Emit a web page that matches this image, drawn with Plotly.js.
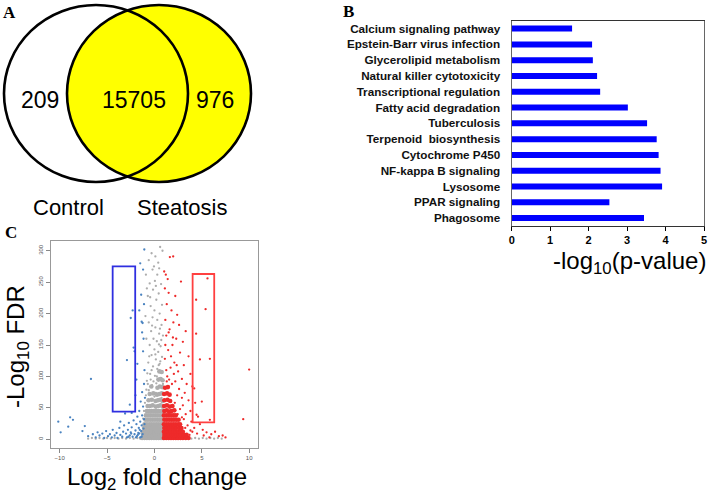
<!DOCTYPE html>
<html>
<head>
<meta charset="utf-8">
<script src="https://cdn.plot.ly/plotly-3.0.1.min.js"></script>
<style>html,body{margin:0;padding:0;background:#fff;}#chart{width:708px;height:494px;}</style>
</head>
<body>
<div id="chart"></div>
<script>
// ---------- Panel A: Venn ----------
const vennLabels = ["Control", "Steatosis"];
const vennCounts = [209, 15705, 976]; // control only, both, steatosis only

// ---------- Panel B: KEGG pathways ----------
const pathways = ["Calcium signaling pathway", "Epstein-Barr virus infection", "Glycerolipid metabolism",
  "Natural killer cytotoxicity", "Transcriptional regulation", "Fatty acid degradation", "Tuberculosis",
  "Terpenoid  biosynthesis", "Cytochrome P450", "NF-kappa B signaling", "Lysosome", "PPAR signaling", "Phagosome"];
const negLogP = [1.57, 2.09, 2.11, 2.22, 2.30, 3.02, 3.52, 3.77, 3.82, 3.87, 3.91, 2.54, 3.44];
const barTicks = [0, 1, 2, 3, 4, 5];

// ---------- Panel C: volcano ----------
const volcanoXTicks = [-10, -5, 0, 5, 10];
const volcanoYTicks = [0, 50, 100, 150, 200, 250, 300];
const grayCore = [
 [-1.3,2],[-1.05,2],[-0.8,2],[-0.55,2],[-0.3,2],[-0.05,2],[0.2,2],[0.45,2],[0.7,2],[0.92,2],
 [-1.2,7],[-0.95,7],[-0.7,7],[-0.45,7],[-0.2,7],[0.05,7],[0.3,7],[0.55,7],[0.8,7],
 [-1.25,12],[-1.0,12],[-0.75,12],[-0.5,12],[-0.25,12],[0.0,12],[0.25,12],[0.5,12],[0.75,12],[0.95,12],
 [-1.1,18],[-0.85,18],[-0.6,18],[-0.35,18],[-0.1,18],[0.15,18],[0.4,18],[0.65,18],[0.9,18],
 [-1.05,24],[-0.8,24],[-0.55,24],[-0.3,24],[-0.05,24],[0.2,24],[0.45,24],[0.7,24],[0.93,24],
 [-0.95,31],[-0.7,31],[-0.45,31],[-0.2,31],[0.05,31],[0.3,31],[0.55,31],[0.8,31],
 [-0.9,38],[-0.65,38],[-0.4,38],[-0.15,38],[0.1,38],[0.35,38],[0.6,38],[0.85,38],
 [-0.8,45],[-0.55,45],[-0.3,45],[-0.05,45],[0.2,45],[0.45,45],[0.7,45],[0.92,45],
 [-0.72,53],[-0.47,53],[-0.18,54],[0.15,52],[0.4,53],[0.65,54],[0.88,52],
 [-0.62,62],[-0.28,63],[0.12,61],[0.37,62],[0.6,63],[0.85,61],
 [-0.5,72],[-0.12,73],[0.27,71],[0.52,72],[0.77,73],
 [-0.33,84],[0.32,82],[0.57,84],[0.82,83],
 [0.42,95],[0.66,96],[0.86,94],
 [0.52,108],[0.76,107]
];
const graySparse = [
 [-0.9,262],[-0.6,285],[-0.3,296],[0.1,291],[0.6,306],[0.85,300],[0.4,281],[-0.2,270],[0.3,262],[-0.5,248],
 [0.05,252],[0.7,247],[-0.15,238],[0.45,232],[-0.7,228],[0.2,222],[0.8,214],[-0.4,212],[0.0,205],[0.55,200],
 [-0.2,194],[0.3,190],[-0.6,186],[0.75,182],[0.1,178],[-0.35,172],[0.5,168],[0.9,165],[-0.1,160],[0.25,156],
 [-0.5,150],[0.65,148],[0.0,143],[0.4,139],[-0.3,134],[0.8,131],[0.15,127],[-0.65,122],[0.55,120],[-0.15,116],
 [0.3,112],[0.7,108],[-0.45,104],[0.05,101],[0.6,97],[-0.8,93],[0.9,88],[-0.25,86],[0.35,83],[-0.6,78],
 [0.15,74],[-0.9,70],[0.75,66],[-1.0,58],[-1.1,45],[-1.2,33],[0.62,124],[0.48,151],[0.72,158],[0.58,176],
 [-0.75,105],[-0.55,132],[-0.85,160],[-0.25,181],[-0.95,196],[-0.45,226],[-0.8,240],[0.15,244],[-0.05,275],[0.5,272],
 [-0.7,88],[-0.4,95],[-0.1,92],[0.2,89],[-0.85,79],[0.0,68],[0.45,118],[0.1,135],[-0.3,110],[0.25,100],
 [-7.0,1],[-6.6,2],[-6.2,1],[-5.8,2],[-5.4,1],[-5.0,2],[-4.6,1],[-4.2,2],[-3.8,1],[-3.4,2],[-3.0,1],[-2.6,2],
 [-2.2,1],[-1.8,2],[-1.5,1],[3.5,2],[3.9,1],[4.3,2],[4.7,1],[5.1,2],[5.5,1],[5.9,2],[6.3,1],[6.7,2],[7.1,1]
];
const blueSparse = [
 [-10.15,28],[-9.9,11],[-8.9,35],[-8.6,31],[-9.1,20],[-7.6,13],[-7.35,21],[-6.7,96],[-7.0,5],[-6.5,8],
 [-6.2,3],[-6.0,11],[-5.8,6],[-5.5,9],[-5.3,2],[-5.1,13],[-4.9,5],[-4.7,8],[-4.5,3],[-4.4,15],
 [-4.2,6],[-4.0,10],[-3.9,2],[-3.7,18],[-3.6,7],[-3.4,4],[-3.3,12],[-3.2,22],[-3.0,9],[-2.9,3],
 [-2.8,15],[-2.7,26],[-2.6,6],[-2.5,11],[-2.4,19],[-2.3,4],[-2.2,30],[-2.1,8],[-2.0,14],[-1.9,24],
 [-1.85,5],[-1.8,36],[-1.7,10],[-1.65,18],[-1.6,45],[-1.5,3],[-1.5,28],[-1.45,60],[-1.4,13],[-1.35,22],
 [-1.3,38],[-1.3,75],[-1.25,8],[-1.2,52],[-1.15,17],[-1.1,32],[-1.1,88],[-1.05,110],[-1.05,24],[-1.0,66],
 [-1.2,140],[-1.3,170],[-1.35,187],[-1.25,185],[-1.5,280],[-1.2,270],[-1.07,302],[-1.4,230],[-1.1,215],[-1.6,205],
 [-1.15,160],[-2.5,193],[-2.3,205],[-2.9,126],[-3.1,41],[-2.4,42],[-2.2,146],[-2.1,140],[-1.8,120],[-1.9,95],
 [-2.0,70],[-2.6,55],[-3.6,28],[-1.75,7],[-1.55,15],[-1.95,3],[-2.45,9],[-2.75,4],[-1.35,4],[-1.6,9]
];
const redCore = [
 [1.0,2],[1.25,2],[1.5,2],[1.75,2],[2.0,2],[2.25,2],[2.5,2],[2.75,2],[3.0,2],[3.3,2],[3.6,2],
 [1.05,7],[1.3,7],[1.55,7],[1.8,7],[2.05,7],[2.3,7],[2.55,7],[2.8,7],[3.1,7],[3.4,7],
 [1.0,12],[1.25,12],[1.5,12],[1.75,12],[2.0,12],[2.25,12],[2.5,12],[2.75,12],[3.0,12],
 [1.05,18],[1.3,18],[1.55,18],[1.8,18],[2.05,18],[2.3,18],[2.6,18],[2.85,18],
 [1.0,24],[1.25,24],[1.5,24],[1.75,24],[2.0,24],[2.25,24],[2.5,24],[2.7,24],
 [1.05,31],[1.3,31],[1.55,31],[1.8,31],[2.05,31],[2.3,31],[2.55,31],
 [1.0,38],[1.25,38],[1.5,38],[1.75,38],[2.0,38],[2.25,38],
 [1.05,45],[1.3,46],[1.55,44],[1.8,45],[2.1,46],
 [1.02,53],[1.32,54],[1.62,52],[1.9,53],
 [1.05,62],[1.38,63],[1.66,61],
 [1.02,72],[1.33,73],[1.6,71],
 [1.12,82],[1.42,83]
];
const redSparse = [
 [1.03,267],[1.63,290],[1.98,291],[2.8,251],[1.2,262],[1.4,255],[1.1,240],[1.5,233],[2.2,228],[1.3,215],
 [1.8,205],[2.4,198],[1.15,190],[2.0,186],[2.6,182],[1.6,175],[3.3,172],[1.25,165],[2.3,160],[3.0,155],
 [1.9,150],[1.45,142],[2.7,138],[3.6,132],[1.1,128],[2.1,122],[3.1,118],[1.7,114],[2.5,108],[3.8,104],
 [1.35,100],[2.9,96],[2.2,92],[3.4,88],[4.0,84],[2.6,80],[3.2,74],[2.9,66],[3.6,62],[4.3,58],
 [3.0,54],[2.7,48],[3.8,45],[3.3,40],[4.6,36],[3.1,32],[3.9,28],[4.8,24],[3.5,22],[4.2,18],
 [5.1,15],[5.5,11],[4.5,9],[6.0,8],[6.4,12],[6.8,5],[7.2,6],[7.5,3],[5.8,3],[5.2,6],
 [4.0,12],[3.7,7],[5.6,256],[4.4,222],[5.4,207],[4.4,168],[4.8,127],[5.85,128],[4.2,81],[4.45,39],
 [5.85,31],[5.0,60],[10.0,111],[9.37,32],[2.4,70],[2.15,58],[2.45,40],[2.9,35],[3.25,18],[3.8,14],
 [1.55,95],[1.25,110],[1.85,88],[2.05,104],[1.15,150],[1.75,132],[2.35,118],[1.5,170],[1.95,162],[1.3,92]
];
const blueBox = {x: [-4.41, -2.03], y: [44, 275]};
const redBox = {x: [4.03, 6.31], y: [27, 263]};

// ---------- build ----------
const W = 708, H = 494;
const px = v => v / W, py = v => 1 - v / H;
const sans = "Liberation Sans, Arial, sans-serif";
const serif = "Liberation Serif, Times New Roman, serif";
const col = (arr, i) => arr.map(p => p[i]);

const GRAY = "#adadad", RED = "#ee2a2a", BLUE = "#4a83c0";
const SMALL = 2.3, CORE = 4.6;
const traces = [
  {type: "bar", orientation: "h", x: negLogP, y: pathways, xaxis: "x2", yaxis: "y2",
   width: 0.38, marker: {color: "#0000ff", line: {width: 0}}, hoverinfo: "x+y"},
  {type: "scatter", mode: "markers", x: col(grayCore,0), y: col(grayCore,1), xaxis: "x", yaxis: "y",
   marker: {color: GRAY, size: CORE, line: {width: 0}}},
  {type: "scatter", mode: "markers", x: col(graySparse,0), y: col(graySparse,1), xaxis: "x", yaxis: "y",
   marker: {color: GRAY, size: SMALL, line: {width: 0}}},
  {type: "scatter", mode: "markers", x: col(blueSparse,0), y: col(blueSparse,1), xaxis: "x", yaxis: "y",
   marker: {color: BLUE, size: SMALL, line: {width: 0}}},
  {type: "scatter", mode: "markers", x: col(redCore,0), y: col(redCore,1), xaxis: "x", yaxis: "y",
   marker: {color: RED, size: CORE, line: {width: 0}}},
  {type: "scatter", mode: "markers", x: col(redSparse,0), y: col(redSparse,1), xaxis: "x", yaxis: "y",
   marker: {color: RED, size: SMALL, line: {width: 0}}}
];

const shapes = [
  // Venn (xaxis3 / yaxis3 are a 1:1 pixel frame of panel A)
  {type: "circle", xref: "x3", yref: "y3", x0: 67, x1: 251, y0: 5, y1: 182, fillcolor: "#ffff00", line: {width: 0}},
  {type: "circle", xref: "x3", yref: "y3", x0: 4, x1: 188, y0: 5, y1: 182, line: {color: "#000", width: 2.6}},
  {type: "circle", xref: "x3", yref: "y3", x0: 67, x1: 251, y0: 5, y1: 182, line: {color: "#000", width: 2.6}},
  // volcano boxes
  {type: "rect", xref: "x", yref: "y", x0: blueBox.x[0], x1: blueBox.x[1], y0: blueBox.y[0], y1: blueBox.y[1],
   line: {color: "#2f2fe0", width: 1.8}},
  {type: "rect", xref: "x", yref: "y", x0: redBox.x[0], x1: redBox.x[1], y0: redBox.y[0], y1: redBox.y[1],
   line: {color: "#ff4040", width: 1.8}}
];

const ann = (text, xref, yref, x, y, font, extra) => Object.assign({text, xref, yref, x, y, showarrow: false,
  xanchor: "center", yanchor: "middle", font}, extra || {});
const annotations = [
  ann(String(vennCounts[0]), "x3", "y3", 40, 100, {family: sans, size: 23, color: "#000"}),
  ann(String(vennCounts[1]), "x3", "y3", 134, 100, {family: sans, size: 23, color: "#000"}),
  ann(String(vennCounts[2]), "x3", "y3", 215, 100, {family: sans, size: 23, color: "#000"}),
  ann(vennLabels[0], "x3", "y3", 68, 207, {family: sans, size: 22, color: "#000"}),
  ann(vennLabels[1], "x3", "y3", 182, 207, {family: sans, size: 22, color: "#000"}),
  ann("<b>A</b>", "paper", "paper", px(9), py(12), {family: serif, size: 17, color: "#000"}),
  ann("<b>B</b>", "paper", "paper", px(348), py(11), {family: serif, size: 17, color: "#000"}),
  ann("<b>C</b>", "paper", "paper", px(11), py(232), {family: serif, size: 17, color: "#000"}),
  ann("-log<sub>10</sub>(p-value)", "paper", "paper", px(629), py(262), {family: sans, size: 24, color: "#000"}),
  ann("Log<sub>2</sub> fold change", "paper", "paper", px(157), py(478), {family: sans, size: 24, color: "#000"}),
  ann("-Log<sub>10</sub> FDR", "paper", "paper", px(17), py(347), {family: sans, size: 24, color: "#000"}, {textangle: -90})
];

const layout = {
  width: W, height: H, margin: {l: 0, r: 0, t: 0, b: 0}, showlegend: false,
  paper_bgcolor: "#fff", plot_bgcolor: "#fff",
  xaxis: {domain: [px(50.7), px(257.7)], anchor: "y", range: [-10.95, 10.9], tickvals: volcanoXTicks,
    ticks: "outside", ticklen: 4, tickcolor: "#888", showline: true, mirror: true, linecolor: "#999", linewidth: 1,
    showgrid: false, zeroline: false, tickfont: {family: sans, size: 6, color: "#555"}},
  yaxis: {domain: [py(447.7), py(240.7)], anchor: "x", range: [-13.4, 316], tickvals: volcanoYTicks, tickangle: -90,
    ticks: "outside", ticklen: 4, tickcolor: "#888", showline: true, mirror: true, linecolor: "#999", linewidth: 1,
    showgrid: false, zeroline: false, tickfont: {family: sans, size: 6, color: "#555"}},
  xaxis2: {domain: [px(511.7), px(704)], anchor: "y2", range: [0, 5], tickvals: barTicks,
    ticks: "outside", ticklen: 4, tickcolor: "#000", showline: true, mirror: true, linecolor: "#333", linewidth: 1.2,
    showgrid: false, zeroline: false, tickfont: {family: sans, size: 11, color: "#000", weight: "bold"}},
  yaxis2: {domain: [py(226), py(20.7)], anchor: "x2", autorange: "reversed", type: "category",
    ticks: "outside", ticklen: 8, tickcolor: "rgba(0,0,0,0)", showline: true, mirror: true, linecolor: "#666", linewidth: 1.2,
    showgrid: false, zeroline: false, tickfont: {family: sans, size: 11.7, color: "#111", weight: "bold"}},
  xaxis3: {domain: [0, px(260)], anchor: "y3", range: [0, 260], visible: false, fixedrange: true},
  yaxis3: {domain: [py(220), 1], anchor: "x3", range: [220, 0], visible: false, fixedrange: true},
  shapes: shapes, annotations: annotations
};

Plotly.newPlot("chart", traces, layout, {displayModeBar: false, staticPlot: true});
</script>
</body>
</html>
